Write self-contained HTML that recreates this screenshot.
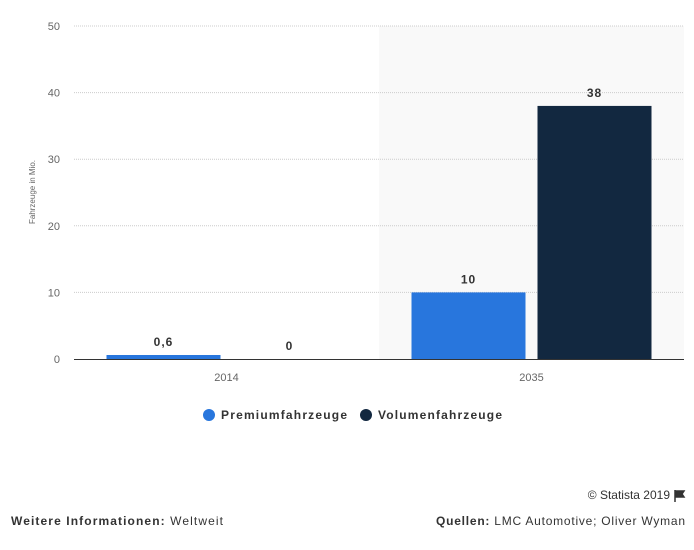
<!DOCTYPE html>
<html><head><meta charset="utf-8"><style>
body{margin:0;width:694px;height:550px;background:#fff;font-family:"Liberation Sans",sans-serif;overflow:hidden}
</style></head><body>
<svg id="c" width="694" height="550" style="position:absolute;left:0;top:0"></svg>
<script>
const categories=["2014","2035"];
const premium=[0.6,10];
const volumen=[0,38];
const premiumLabels=["0,6","10"];
const volumenLabels=["0","38"];
const yTicks=[0,10,20,30,40,50];
const svg=document.getElementById('c');const NS='http://www.w3.org/2000/svg';
function el(t,a,txt){const e=document.createElementNS(NS,t);for(const k in a)e.setAttribute(k,a[k]);if(txt!==undefined)e.textContent=txt;svg.appendChild(e);return e;}
const L=74,R=684,T=26,B=359;
const y=v=>B-(v/50)*(B-T);
const bandW=(R-L)/categories.length;
const xc=i=>L+bandW*(i+0.5);
let s=el('rect',{x:L+bandW,y:T,width:bandW,height:B-T,fill:'#f9f9f9'});

yTicks.forEach(t=>{
 if(t>0){let g=el('line',{x1:L,x2:R,y1:y(t),y2:y(t),stroke:'#ccc','stroke-dasharray':'1,1'});}
 let tx=el('text',{x:60,y:y(t)+4,'text-anchor':'end','font-size':11,fill:'#666'},t);
 
});
let ax=el('line',{x1:L,x2:R,y1:B+0.5,y2:B+0.5,stroke:'#333'});
let yt=el('text',{x:0,y:0,transform:'translate(35,192) rotate(-90)','text-anchor':'middle','font-size':8,fill:'#666'},'Fahrzeuge in Mio.');

const bw=114,gap=12;
categories.forEach((c,i)=>{
 const x0=xc(i)-gap/2-bw, x1=xc(i)+gap/2;
 let b1=el('rect',{x:x0,y:y(premium[i]),width:bw,height:Math.max(B-y(premium[i]),0),fill:'#2876dd'});
 
 let b2=el('rect',{x:x1,y:y(volumen[i]),width:bw,height:Math.max(B-y(volumen[i]),0),fill:'#122840'});
 
 let l1=el('text',{x:x0+bw/2,y:y(premium[i])-9,'text-anchor':'middle','font-size':12,'font-weight':'bold',fill:'#333','letter-spacing':1},premiumLabels[i]);
 
 let l2=el('text',{x:x1+bw/2,y:y(volumen[i])-9,'text-anchor':'middle','font-size':12,'font-weight':'bold',fill:'#333','letter-spacing':1},volumenLabels[i]);
 
 let xl=el('text',{x:xc(i),y:381,'text-anchor':'middle','font-size':11,fill:'#666'},c);
 
});
let c1=el('circle',{cx:209,cy:415,r:6,fill:'#2876dd'});
let t1=el('text',{x:221,y:419,'font-size':12,'font-weight':'bold',fill:'#333',textLength:126},'Premiumfahrzeuge');
let c2=el('circle',{cx:366,cy:415,r:6,fill:'#122840'});
let t2=el('text',{x:378,y:419,'font-size':12,'font-weight':'bold',fill:'#333',textLength:124},'Volumenfahrzeuge');
let cp=el('text',{x:670,y:499,'text-anchor':'end','font-size':12,fill:'#333'},'© Statista 2019');
let fl=el('path',{d:'M675 490 v12 M675 491 h9 l-2 3 l2 3 h-9',fill:'#333',stroke:'#333','stroke-width':1.5});
let f1=el('text',{x:11,y:525,'font-size':12,fill:'#333',textLength:212});f1.innerHTML='<tspan font-weight="bold">Weitere Informationen:</tspan> Weltweit';

let f2=el('text',{x:436,y:525,'font-size':12,fill:'#333',textLength:249});f2.innerHTML='<tspan font-weight="bold">Quellen:</tspan> LMC Automotive; Oliver Wyman';

</script>
</body></html>
